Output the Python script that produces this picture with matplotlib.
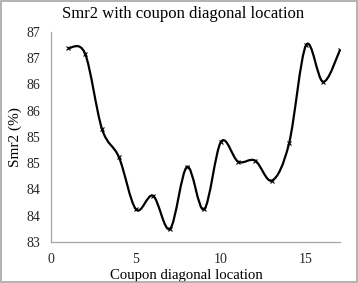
import numpy as np
import matplotlib.pyplot as plt
from matplotlib.path import Path
from matplotlib.patches import PathPatch, Rectangle

plt.rcParams['font.family'] = ['Liberation Serif', 'DejaVu Serif']

# данные
location = [1, 2, 3, 4, 5, 6, 7, 8, 9, 10, 11, 12, 13, 14, 15, 16, 17]
smr2 = [86.69, 86.59, 85.15, 84.61, 83.62, 83.88, 83.25, 84.43, 83.62,
        84.91, 84.53, 84.55, 84.17, 84.88, 86.75, 86.05, 86.66]
y_ticks = [83, 83.5, 84, 84.5, 85, 85.5, 86, 86.5, 87]
y_labels = ['83', '84', '84', '85', '85', '86', '86', '87', '87']
x_ticks = [0, 5, 10, 15]


def smooth_path(x, y):
    # сглаживание как в Excel (Catmull-Rom -> Bezier)
    p = np.column_stack([x, y]).astype(float)
    p_ext = np.vstack([p[0], p, p[-1]])
    verts = [p[0]]
    codes = [Path.MOVETO]
    for i in range(len(p) - 1):
        p0, p1, p2, p3 = p_ext[i], p_ext[i + 1], p_ext[i + 2], p_ext[i + 3]
        c1 = p1 + (p2 - p0) / 6
        c2 = p2 - (p3 - p1) / 6
        verts += [c1, c2, p2]
        codes += [Path.CURVE4] * 3
    return Path(verts, codes)


fig = plt.figure(figsize=(3.58, 2.83), dpi=100)
ax = fig.add_axes([0.1425, 0.145, 0.8075, 0.742])

ax.add_patch(PathPatch(smooth_path(location, smr2), fill=False,
                       edgecolor='black', linewidth=1.6))
ax.plot(location, smr2, linestyle='none', marker='x', color='black',
        markersize=3.5, markeredgewidth=0.8)

ax.set_xlim(0, 17)
ax.set_ylim(83, 87)
ax.set_xticks(x_ticks)
ax.set_yticks(y_ticks)
ax.set_yticklabels(y_labels)
ax.tick_params(length=0, labelsize=10, colors='#262626')
ax.tick_params(axis='y', pad=8)
ax.tick_params(axis='x', pad=8)

for s in ['top', 'right']:
    ax.spines[s].set_visible(False)
for s in ['left', 'bottom']:
    ax.spines[s].set_color('#a6a6a6')
    ax.spines[s].set_linewidth(0.9)

fig.text(0.511, 0.95, 'Smr2 with coupon diagonal location', fontsize=12,
         ha='center', va='center')
ax.set_xlabel('Coupon diagonal location', fontsize=10.6, labelpad=2)
ax.xaxis.label.set_x(0.467)
ax.set_ylabel('Smr2 (%)', fontsize=11, labelpad=3)

fig.patches.append(Rectangle((0.003, 0.003), 0.994, 0.994, transform=fig.transFigure,
                             fill=False, edgecolor='#a6a6a6', linewidth=1.2))

plt.savefig('out.png', dpi=100)
